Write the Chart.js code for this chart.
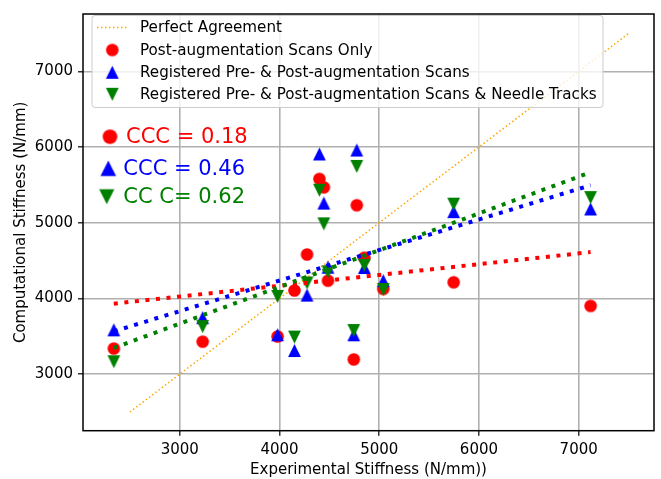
<!DOCTYPE html>
<html>
<head>
<meta charset="utf-8">
<script src="https://cdn.jsdelivr.net/npm/chart.js@4"></script>
<style>
  body { margin: 0; background: #fff; }
  #wrap { width: 661px; height: 479px; }
</style>
</head>
<body>
<div id="wrap"><canvas id="myChart" width="661" height="479"></canvas></div>
<script>
const xTicks = [3000, 4000, 5000, 6000, 7000];
const yTicks = [3000, 4000, 5000, 6000, 7000];

// experimental stiffness of each specimen (N/mm)
const expStiffness = [2339, 3230, 3981, 4150, 4276, 4400, 4445, 4486, 4745, 4775, 4851, 5041, 5746, 7119];
const postOnly = [3338, 3429, 3498, 4105, 4581, 5579, 5467, 4235, 3195, 5231, 4538, 4126, 4213, 3901];
const registered = [3585, 3745, 3520, 3312, 4044, 5908, 5259, 4412, 3520, 5960, 4408, 4235, 5146, 5182];
const registeredTracks = [3164, 3628, 4027, 3489, 4204, 5429, 4985, 4352, 3576, 5744, 4438, 4118, 5245, 5332];

// fitted lines, read at both ends
const fitX = [2339, 7119];
const fitPostOnly = [3931, 4612];
const fitRegistered = [3565, 5495];
const fitRegisteredTracks = [3346, 5666];
const perfectLine = [2500, 7500];

const legendLabels = [
  "Perfect Agreement",
  "Post-augmentation Scans Only",
  "Registered Pre- & Post-augmentation Scans",
  "Registered Pre- & Post-augmentation Scans & Needle Tracks"
];
const cccLabels = ["CCC = 0.18", "CCC = 0.46", "CC C= 0.62"];

const RED = "#ff0000", BLUE = "#0000ff", GREEN = "#008000", ORANGE = "#ffa500";

function markerImage(kind, color, h) {
  const s = Math.ceil(h * 2 + 4);
  const c = document.createElement("canvas");
  c.width = s; c.height = s;
  const g = c.getContext("2d");
  const m = s / 2;
  g.fillStyle = color;
  g.beginPath();
  if (kind === "up") {
    g.moveTo(m, m - h); g.lineTo(m + h, m + h); g.lineTo(m - h, m + h);
  } else if (kind === "down") {
    g.moveTo(m, m + h); g.lineTo(m + h, m - h); g.lineTo(m - h, m - h);
  } else {
    g.arc(m, m, h, 0, Math.PI * 2);
  }
  g.closePath();
  g.fill();
  return c;
}

const redDot = markerImage("circle", RED, 6.3);
const blueUp = markerImage("up", BLUE, 6.4);
const greenDown = markerImage("down", GREEN, 6.4);

function pairs(xs, ys) {
  return xs.map((x, i) => ({ x: x, y: ys[i] }));
}

function roundRect(ctx, x, y, w, h, r) {
  ctx.beginPath();
  ctx.moveTo(x + r, y);
  ctx.lineTo(x + w - r, y);
  ctx.quadraticCurveTo(x + w, y, x + w, y + r);
  ctx.lineTo(x + w, y + h - r);
  ctx.quadraticCurveTo(x + w, y + h, x + w - r, y + h);
  ctx.lineTo(x + r, y + h);
  ctx.quadraticCurveTo(x, y + h, x, y + h - r);
  ctx.lineTo(x, y + r);
  ctx.quadraticCurveTo(x, y, x + r, y);
  ctx.closePath();
}

const overlay = {
  id: "overlay",
  afterDraw(chart) {
    const ctx = chart.ctx;
    const a = chart.chartArea;
    ctx.save();

    // axes frame
    ctx.strokeStyle = "#000";
    ctx.lineWidth = 1.5;
    ctx.strokeRect(a.left, a.top, a.right - a.left, a.bottom - a.top);

    // legend box
    roundRect(ctx, 92, 15.5, 511, 92, 3);
    ctx.fillStyle = "rgba(255,255,255,0.8)";
    ctx.fill();
    ctx.strokeStyle = "#cccccc";
    ctx.lineWidth = 1;
    ctx.stroke();

    ctx.strokeStyle = ORANGE;
    ctx.lineWidth = 1.5;
    ctx.setLineDash([1.5, 2.5]);
    ctx.beginPath();
    ctx.moveTo(97, 27.5);
    ctx.lineTo(127, 27.5);
    ctx.stroke();
    ctx.setLineDash([]);

    const rows = [27.5, 50, 72.3, 94.3];
    const marks = [null, redDot, blueUp, greenDown];
    ctx.font = '15.15px "DejaVu Sans"';
    ctx.textBaseline = "middle";
    ctx.fillStyle = "#000";
    rows.forEach((y, i) => {
      if (marks[i]) ctx.drawImage(marks[i], 112.3 - marks[i].width / 2, y - marks[i].height / 2);
      ctx.fillText(legendLabels[i], 140, y + 1);
    });

    // concordance annotations
    const big = [markerImage("circle", RED, 7.3), markerImage("up", BLUE, 7.8), markerImage("down", GREEN, 7.6)];
    const bigX = [110, 108.3, 106.7];
    const bigY = [136.7, 168.3, 196.7];
    const textX = [126, 123.3, 123.3];
    const colors = [RED, BLUE, GREEN];
    ctx.font = '21px "DejaVu Sans"';
    big.forEach((img, i) => {
      ctx.drawImage(img, bigX[i] - img.width / 2, bigY[i] - img.height / 2);
      ctx.fillStyle = colors[i];
      ctx.fillText(cccLabels[i], textX[i], bigY[i] + 1);
    });
    ctx.restore();
  }
};

Chart.defaults.font.family = '"DejaVu Sans", sans-serif';

const ctx = document.getElementById("myChart").getContext("2d");
const chart = new Chart(ctx, {
  type: "scatter",
  data: {
    datasets: [
      {
        label: "Perfect Agreement",
        type: "line",
        data: pairs(perfectLine, perfectLine),
        borderColor: ORANGE,
        borderWidth: 1.5,
        borderDash: [1.5, 2.5],
        pointRadius: 0,
        showLine: true,
        order: 7
      },
      {
        label: "Post-augmentation Scans Only",
        data: pairs(expStiffness, postOnly),
        pointStyle: redDot,
        pointRadius: 6,
        order: 6
      },
      {
        label: "Registered Pre- & Post-augmentation Scans",
        data: pairs(expStiffness, registered),
        pointStyle: blueUp,
        pointRadius: 6,
        order: 5
      },
      {
        label: "Registered Pre- & Post-augmentation Scans & Needle Tracks",
        data: pairs(expStiffness, registeredTracks),
        pointStyle: greenDown,
        pointRadius: 6,
        order: 4
      },
      {
        type: "line",
        data: pairs(fitX, fitPostOnly),
        borderColor: RED,
        borderWidth: 4,
        borderDash: [4, 6.6],
        pointRadius: 0,
        showLine: true,
        order: 3
      },
      {
        type: "line",
        data: pairs(fitX, fitRegistered),
        borderColor: BLUE,
        borderWidth: 4,
        borderDash: [4, 6.6],
        pointRadius: 0,
        showLine: true,
        order: 2
      },
      {
        type: "line",
        data: pairs(fitX, fitRegisteredTracks),
        borderColor: GREEN,
        borderWidth: 4,
        borderDash: [4, 6.6],
        pointRadius: 0,
        showLine: true,
        order: 1
      }
    ]
  },
  options: {
    responsive: false,
    animation: false,
    layout: { padding: { top: 7.5, right: 4.3, left: 0, bottom: 0 } },
    plugins: {
      legend: { display: false },
      tooltip: { enabled: false }
    },
    scales: {
      x: {
        type: "linear",
        min: 2030,
        max: 7755,
        afterBuildTicks: s => { s.ticks = xTicks.map(v => ({ value: v })); },
        afterFit: s => { s.height = 48.3; },
        grid: { color: "#b0b0b0", lineWidth: 1.6, tickColor: "#000", tickWidth: 1.2, tickLength: 5 },
        border: { display: false },
        ticks: { color: "#000", font: { size: 15 }, padding: 5, maxRotation: 0, callback: v => String(v) },
        title: {
          display: true,
          text: "Experimental Stiffness (N/mm))",
          color: "#000",
          font: { size: 15 },
          padding: { top: 0, bottom: 0 }
        }
      },
      y: {
        type: "linear",
        min: 2253,
        max: 7757,
        afterBuildTicks: s => { s.ticks = yTicks.map(v => ({ value: v })); },
        afterFit: s => { s.width = 83; },
        grid: { color: "#b0b0b0", lineWidth: 1.6, tickColor: "#000", tickWidth: 1.2, tickLength: 5 },
        border: { display: false },
        ticks: { color: "#000", font: { size: 15 }, padding: 5, callback: v => String(v) },
        title: {
          display: true,
          text: "Computational Stiffness (N/mm)",
          color: "#000",
          font: { size: 15 },
          padding: { top: 12, bottom: 0 }
        }
      }
    }
  },
  plugins: [overlay]
});
</script>
</body>
</html>
